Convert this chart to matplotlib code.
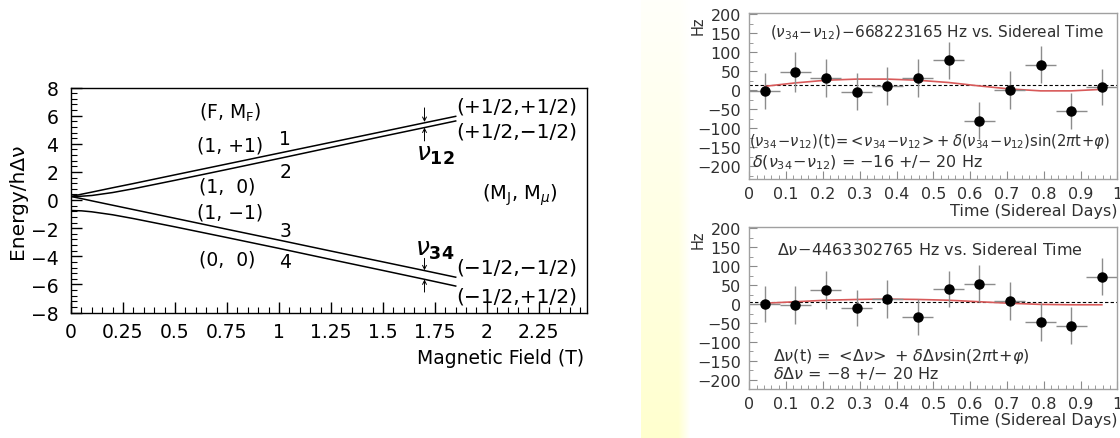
import numpy as np
import matplotlib.pyplot as plt
from matplotlib.ticker import MultipleLocator

# ---- panel izquierdo: niveles de energia (Breit-Rabi) ----
campo_B = [0.0, 0.05, 0.1, 0.2, 0.3, 0.5, 0.75, 1.0, 1.25, 1.5, 1.7, 1.85]
nivel_1 = [0.25, 0.41, 0.56, 0.87, 1.17, 1.79, 2.56, 3.33, 4.10, 4.87, 5.49, 5.95]
nivel_2 = [0.25, 0.27, 0.32, 0.53, 0.80, 1.40, 2.17, 2.95, 3.74, 4.53, 5.15, 5.62]
nivel_3 = [0.25, 0.10, -0.06, -0.37, -0.68, -1.30, -2.08, -2.85, -3.63, -4.40, -5.02, -5.49]
nivel_4 = [-0.75, -0.77, -0.84, -1.05, -1.32, -1.91, -2.67, -3.44, -4.23, -5.01, -5.64, -6.12]

ticks_B = [0, 0.25, 0.5, 0.75, 1, 1.25, 1.5, 1.75, 2, 2.25]
etiquetas_B = ['0', '0.25', '0.5', '0.75', '1', '1.25', '1.5', '1.75', '2', '2.25']
ticks_E = [-8, -6, -4, -2, 0, 2, 4, 6, 8]
etiquetas_E = ['\u22128', '\u22126', '\u22124', '\u22122', '0', '2', '4', '6', '8']

# ---- paneles derechos: frecuencias vs tiempo sidereo ----
tiempo = [0.042, 0.125, 0.208, 0.292, 0.375, 0.458, 0.542, 0.625, 0.708, 0.792, 0.875, 0.958]
ancho_t = [0.042] * 12
nu_dif = [-3, 48, 32, -4, 12, 32, 78, -80, 1, 67, -55, 8]
err_dif = [47, 52, 50, 49, 50, 49, 49, 49, 50, 49, 47, 47]
delta_nu = [0, -2, 37, -10, 14, -34, 39, 54, 8, -48, -57, 72]
err_delta = [48, 50, 50, 48, 50, 48, 48, 50, 50, 50, 48, 48]

t_ajuste = [0.042, 0.125, 0.208, 0.292, 0.375, 0.458, 0.542, 0.625, 0.708, 0.792, 0.875, 0.958]
ajuste_dif = [10, 19, 26, 29, 29, 26, 20, 11, 3, -2, -2, 2]
ajuste_delta = [2, 6, 10, 12, 13, 12, 10, 6, 2, -1, -2, -2]
media_dif = 13
media_delta = 5

ticks_t = [0, 0.1, 0.2, 0.3, 0.4, 0.5, 0.6, 0.7, 0.8, 0.9, 1]
etiquetas_t = ['0', '0.1', '0.2', '0.3', '0.4', '0.5', '0.6', '0.7', '0.8', '0.9', '1']
ticks_hz = [-200, -150, -100, -50, 0, 50, 100, 150, 200]
etiquetas_hz = ['\u2212200', '\u2212150', '\u2212100', '\u221250', '0', '50', '100', '150', '200']

W, H = 1120, 439
fig = plt.figure(figsize=(W / 100, H / 100), dpi=100)

# franja amarilla detras de los paneles derechos
banda = fig.add_axes([641 / W, 0, 50 / W, 1])
filas = np.linspace(0, 1, 200)[:, None]
cols = np.linspace(0, 1, 50)[None, :]
fuerza = (0.1 + 0.9 * filas) * np.clip((1 - cols) / 0.25, 0, 1)
img = np.ones((200, 50, 3))
img[:, :, 2] = 1 - 0.19 * fuerza
banda.imshow(img, aspect='auto', interpolation='bilinear')
banda.axis('off')

# ---------------- panel izquierdo ----------------
ax = fig.add_axes([71 / W, 1 - 313.5 / H, (586.7 - 71) / W, (313.5 - 88.5) / H])
for nivel in (nivel_1, nivel_2, nivel_3, nivel_4):
    ax.plot(campo_B, nivel, color='black', lw=1.1)
ax.set_xlim(0, 2.48)
ax.set_ylim(-8, 8)
ax.set_xticks(ticks_B)
ax.set_xticklabels(etiquetas_B)
ax.set_yticks(ticks_E)
ax.set_yticklabels(etiquetas_E)
ax.xaxis.set_minor_locator(MultipleLocator(0.05))
ax.yaxis.set_minor_locator(MultipleLocator(0.4))
ax.tick_params(which='both', direction='in', top=False, right=False, labelsize=13.5)
ax.tick_params(which='major', length=8, width=1)
ax.tick_params(which='minor', length=4, width=0.8)
ax.tick_params(axis='x', pad=7)
ax.tick_params(axis='y', pad=9)
for s in ax.spines.values():
    s.set_linewidth(1.0)
ax.set_ylabel('Energy/h\u0394\u03bd', fontsize=14.5, labelpad=3)
ax.text(2.47, -11.2, 'Magnetic Field (T)', fontsize=13.5, ha='right', va='center')

fs = 13.5
ax.text(0.765, 6.3, r'(F, M$_\mathrm{F}$)', fontsize=fs, ha='center', va='center')
ax.text(0.765, 3.9, '(1, +1)', fontsize=fs, ha='center', va='center')
ax.text(0.75, 1.0, '(1,  0)', fontsize=fs, ha='center', va='center')
ax.text(0.765, -0.85, '(1, \u22121)', fontsize=fs, ha='center', va='center')
ax.text(0.75, -4.2, '(0,  0)', fontsize=fs, ha='center', va='center')
for etiqueta, yy in (('1', 4.34), ('2', 2.0), ('3', -2.2), ('4', -4.4)):
    ax.text(1.03, yy, etiqueta, fontsize=fs, ha='center', va='center')

for etiqueta, yy in (('(+1/2,+1/2)', 6.7), ('(+1/2,\u22121/2)', 4.93),
                     ('(\u22121/2,\u22121/2)', -4.77), ('(\u22121/2,+1/2)', -6.8)):
    ax.text(1.855, yy, etiqueta, fontsize=14.5, ha='left', va='center')
ax.text(2.16, 0.43, r'(M$_\mathrm{J}$, M$_\mu$)', fontsize=14, ha='center', va='center')
ax.text(1.75, 3.27, r'$\nu_{\mathbf{12}}$', fontsize=18, ha='center', va='center')
ax.text(1.75, -3.5, r'$\nu_{\mathbf{34}}$', fontsize=18, ha='center', va='center')

flecha = dict(arrowstyle='->', lw=0.7, color='black', mutation_scale=7, shrinkA=0, shrinkB=0)
for base, punta in ((6.55, 5.55), (4.2, 5.15), (-4.15, -5.0), (-6.55, -5.65)):
    ax.annotate('', xy=(1.70, punta), xytext=(1.70, base), arrowprops=flecha)

# ---------------- paneles derechos ----------------
gris = '#8a8a8a'
texto = '#303030'


def panel(rect, valores, errores, ajuste, media, ylim, titulo, pos_tit, fs_tit, formula, pos_f, fs_f, delta, pos_d):
    a = fig.add_axes(rect)
    a.axhline(media, color='black', lw=0.8, ls=(0, (3, 2)))
    a.plot(t_ajuste, ajuste, color='#d85a5a', lw=1.2)
    a.errorbar(tiempo, valores, xerr=ancho_t, yerr=errores, fmt='o', color='black',
               ecolor='#8c8c8c', elinewidth=1.0, capsize=0, markersize=6.5)
    a.set_xlim(0, 1)
    a.set_ylim(*ylim)
    a.set_xticks(ticks_t)
    a.set_xticklabels(etiquetas_t)
    a.set_yticks(ticks_hz)
    a.set_yticklabels(etiquetas_hz)
    a.xaxis.set_minor_locator(MultipleLocator(0.02))
    a.yaxis.set_minor_locator(MultipleLocator(25))
    a.tick_params(which='both', direction='in', top=False, right=False,
                  labelsize=11.5, labelcolor=texto, color=gris)
    a.tick_params(which='major', length=6, width=0.8)
    a.tick_params(which='minor', length=3, width=0.6)
    a.tick_params(axis='x', pad=5)
    a.tick_params(axis='y', pad=6)
    for s in a.spines.values():
        s.set_color('#a0a0a0')
        s.set_linewidth(1.0)
    a.text(-0.14, 0.93, 'Hz', transform=a.transAxes, fontsize=10.5, color=texto,
           rotation=90, ha='center', va='center')
    a.text(1.0, -0.19, 'Time (Sidereal Days)', transform=a.transAxes,
           fontsize=11.5, color=texto, ha='right', va='center')
    a.text(pos_tit[0], pos_tit[1], titulo, fontsize=fs_tit, color=texto, ha='left', va='center')
    a.text(pos_f[0], pos_f[1], formula, fontsize=fs_f, color=texto, ha='left', va='center')
    a.text(pos_d[0], pos_d[1], delta, fontsize=11.5, color=texto, ha='left', va='center')
    return a


panel([749.3 / W, 1 - 180 / H, 368 / W, 166 / H], nu_dif, err_dif, ajuste_dif, media_dif,
      (-234, 203),
      r'$(\nu_{34}\!-\!\nu_{12})\!-\!$668223165 Hz vs. Sidereal Time', (0.055, 153), 11,
      r'$(\nu_{34}\!-\!\nu_{12})(\mathrm{t})\!=\!<\!\nu_{34}\!-\!\nu_{12}\!>\!+\delta(\nu_{34}\!-\!\nu_{12})\mathrm{sin}(2\pi\mathrm{t}\!+\!\varphi)$',
      (0.0, -133), 10.6,
      r'$\delta(\nu_{34}\!-\!\nu_{12})$ = $-$16 +/$-$ 20 Hz', (0.008, -190))

panel([749.3 / W, 1 - 390 / H, 368 / W, 162 / H], delta_nu, err_delta, ajuste_delta, media_delta,
      (-224, 203),
      r'$\Delta\nu\!-\!$4463302765 Hz vs. Sidereal Time', (0.075, 145), 11.5,
      r'$\Delta\nu(\mathrm{t})$ = $<\!\Delta\nu\!>$ + $\delta\Delta\nu\mathrm{sin}(2\pi\mathrm{t}\!+\!\varphi)$',
      (0.064, -137), 11.5,
      r'$\delta\Delta\nu$ = $-$8 +/$-$ 20 Hz', (0.064, -180))

fig.savefig('out.png', dpi=100)
